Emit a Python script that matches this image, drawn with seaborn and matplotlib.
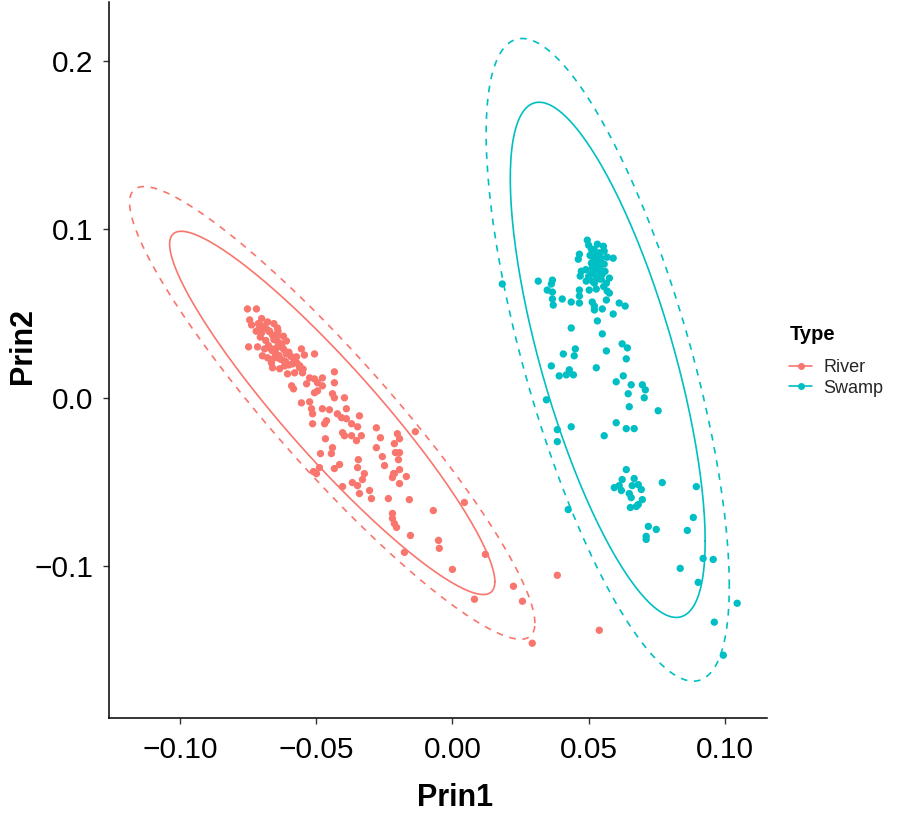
import numpy as np
import pandas as pd
import matplotlib
matplotlib.use("Agg")
import matplotlib.pyplot as plt
import seaborn as sns
from matplotlib.lines import Line2D

# River scores
river_prin1 = [
    -0.0752, -0.0719, -0.0744, -0.0737, -0.0708, -0.0697, -0.0678, -0.0682, -0.0700, -0.0671,
    -0.0642, -0.0642, -0.0609, -0.0627, -0.0748, -0.0715, -0.0689, -0.0697, -0.0664, -0.0645,
    -0.0623, -0.0609, -0.0653, -0.0634, -0.0664, -0.0678, -0.0554, -0.0543, -0.0572, -0.0506,
    -0.0616, -0.0587, -0.0561, -0.0634, -0.0660, -0.0605, -0.0550, -0.0579, -0.0524, -0.0506,
    -0.0477, -0.0495, -0.0535, -0.0477, -0.0433, -0.0433, -0.0590, -0.0583, -0.0506, -0.0495,
    -0.0440, -0.0433, -0.0396, -0.0554, -0.0524, -0.0517, -0.0513, -0.0477, -0.0451, -0.0389,
    -0.0422, -0.0407, -0.0389, -0.0341, -0.0462, -0.0469, -0.0513, -0.0370, -0.0348, -0.0279,
    -0.0403, -0.0396, -0.0370, -0.0352, -0.0334, -0.0466, -0.0264, -0.0202, -0.0194, -0.0136,
    -0.0279, -0.0213, -0.0440, -0.0444, -0.0484, -0.0209, -0.0194, -0.0257, -0.0198, -0.0345,
    -0.0414, -0.0433, -0.0488, -0.0510, -0.0499, -0.0348, -0.0323, -0.0330, -0.0367, -0.0348,
    -0.0403, -0.0249, -0.0216, -0.0194, -0.0169, -0.0220, -0.0194, -0.0304, -0.0297, -0.0341,
    -0.0235, -0.0158, -0.0213, -0.0070, 0.0044, -0.0220, -0.0220, -0.0213, -0.0205, -0.0154,
    -0.0051, -0.0048, -0.0176, 0.0121, 0.0000, 0.0081, 0.0224, 0.0257, 0.0293, 0.0385,
    0.0539,
    # overlapping points in the dense upper-left clump
    -0.0712, -0.0690, -0.0672, -0.0660, -0.0655, -0.0640, -0.0630, -0.0618, -0.0600, -0.0592,
    -0.0580, -0.0570, -0.0560, -0.0548, -0.0705, -0.0685, -0.0675, -0.0662, -0.0648, -0.0636,
    -0.0625, -0.0612, -0.0600, -0.0720, -0.0700, -0.0655, -0.0640, -0.0620,
]
river_prin2 = [
    0.0527, 0.0527, 0.0462, 0.0432, 0.0414, 0.0426, 0.0450, 0.0408, 0.0385, 0.0396,
    0.0414, 0.0367, 0.0337, 0.0320, 0.0302, 0.0302, 0.0290, 0.0249, 0.0290, 0.0296,
    0.0296, 0.0260, 0.0237, 0.0231, 0.0207, 0.0237, 0.0290, 0.0254, 0.0243, 0.0260,
    0.0189, 0.0201, 0.0178, 0.0172, 0.0178, 0.0142, 0.0148, 0.0148, 0.0118, 0.0112,
    0.0118, 0.0089, 0.0083, 0.0071, 0.0154, 0.0089, 0.0071, 0.0053, 0.0030, 0.0041,
    0.0024, 0.0000, 0.0000, -0.0030, -0.0024, -0.0065, -0.0095, -0.0065, -0.0071, -0.0065,
    -0.0095, -0.0118, -0.0124, -0.0107, -0.0136, -0.0154, -0.0154, -0.0154, -0.0172, -0.0178,
    -0.0207, -0.0225, -0.0225, -0.0254, -0.0225, -0.0243, -0.0237, -0.0213, -0.0243, -0.0201,
    -0.0296, -0.0272, -0.0296, -0.0331, -0.0331, -0.0325, -0.0325, -0.0349, -0.0367, -0.0367,
    -0.0396, -0.0420, -0.0414, -0.0438, -0.0450, -0.0414, -0.0450, -0.0485, -0.0503, -0.0521,
    -0.0527, -0.0402, -0.0450, -0.0426, -0.0467, -0.0473, -0.0509, -0.0550, -0.0598, -0.0568,
    -0.0598, -0.0604, -0.0450, -0.0669, -0.0621, -0.0686, -0.0716, -0.0746, -0.0769, -0.0817,
    -0.0846, -0.0893, -0.0917, -0.0929, -0.1018, -0.1195, -0.1118, -0.1207, -0.1456, -0.1053,
    -0.1379,
    0.0440, 0.0418, 0.0392, 0.0372, 0.0345, 0.0330, 0.0310, 0.0285, 0.0270, 0.0245,
    0.0225, 0.0205, 0.0190, 0.0170, 0.0360, 0.0340, 0.0310, 0.0280, 0.0262, 0.0250,
    0.0225, 0.0215, 0.0195, 0.0395, 0.0470, 0.0440, 0.0395, 0.0365,
]

# Swamp scores
swamp_prin1 = [
    0.0495, 0.0532, 0.0554, 0.0510, 0.0557, 0.0466, 0.0462, 0.0510, 0.0532, 0.0546,
    0.0568, 0.0590, 0.0510, 0.0521, 0.0532, 0.0513, 0.0539, 0.0557, 0.0550, 0.0473,
    0.0469, 0.0510, 0.0528, 0.0550, 0.0576, 0.0491, 0.0521, 0.0565, 0.0546, 0.0183,
    0.0315, 0.0367, 0.0363, 0.0348, 0.0367, 0.0466, 0.0502, 0.0528, 0.0568, 0.0576,
    0.0466, 0.0367, 0.0403, 0.0370, 0.0436, 0.0466, 0.0513, 0.0521, 0.0521, 0.0550,
    0.0565, 0.0612, 0.0634, 0.0590, 0.0532, 0.0436, 0.0550, 0.0565, 0.0623, 0.0642,
    0.0638, 0.0451, 0.0407, 0.0447, 0.0363, 0.0429, 0.0392, 0.0418, 0.0444, 0.0528,
    0.0627, 0.0601, 0.0656, 0.0697, 0.0708, 0.0645, 0.0704, 0.0345, 0.0649, 0.0755,
    0.0436, 0.0385, 0.0601, 0.0638, 0.0667, 0.0557, 0.0385, 0.0638, 0.0623, 0.0594,
    0.0612, 0.0620, 0.0667, 0.0660, 0.0649, 0.0682, 0.0693, 0.0656, 0.0697, 0.0682,
    0.0653, 0.0675, 0.0770, 0.0895, 0.0719, 0.0748, 0.0711, 0.0711, 0.0884, 0.0862,
    0.0920, 0.0957, 0.0836, 0.0902, 0.1045, 0.0961, 0.0994, 0.0425,
    # overlapping points in the dense upper clump
    0.0500, 0.0520, 0.0540, 0.0505, 0.0525, 0.0545, 0.0515, 0.0535, 0.0490, 0.0525,
    0.0560, 0.0500, 0.0540, 0.0515, 0.0555,
]
swamp_prin2 = [
    0.0935, 0.0911, 0.0899, 0.0882, 0.0870, 0.0852, 0.0822, 0.0840, 0.0852, 0.0828,
    0.0834, 0.0828, 0.0799, 0.0793, 0.0799, 0.0769, 0.0769, 0.0793, 0.0751, 0.0751,
    0.0722, 0.0734, 0.0722, 0.0734, 0.0710, 0.0692, 0.0680, 0.0680, 0.0704, 0.0675,
    0.0692, 0.0698, 0.0675, 0.0639, 0.0627, 0.0639, 0.0639, 0.0645, 0.0633, 0.0621,
    0.0604, 0.0586, 0.0586, 0.0550, 0.0568, 0.0562, 0.0568, 0.0544, 0.0521, 0.0527,
    0.0580, 0.0562, 0.0544, 0.0497, 0.0456, 0.0414, 0.0379, 0.0278, 0.0320, 0.0296,
    0.0231, 0.0290, 0.0260, 0.0249, 0.0189, 0.0166, 0.0130, 0.0136, 0.0136, 0.0178,
    0.0130, 0.0095, 0.0077, 0.0077, 0.0047, 0.0024, 0.0000, -0.0012, -0.0053, -0.0077,
    -0.0172, -0.0189, -0.0148, -0.0183, -0.0183, -0.0225, -0.0260, -0.0426, -0.0485, -0.0533,
    -0.0521, -0.0550, -0.0479, -0.0521, -0.0568, -0.0515, -0.0544, -0.0592, -0.0604, -0.0633,
    -0.0651, -0.0645, -0.0503, -0.0527, -0.0763, -0.0781, -0.0822, -0.0840, -0.0710, -0.0787,
    -0.0953, -0.0959, -0.1012, -0.1095, -0.1219, -0.1331, -0.1527, -0.0663,
    0.0905, 0.0880, 0.0860, 0.0845, 0.0815, 0.0805, 0.0785, 0.0780, 0.0760, 0.0745,
    0.0750, 0.0720, 0.0705, 0.0690, 0.0660,
]

types = ["River", "Swamp"]
colors = {"River": "#F8766D", "Swamp": "#00BFC4"}

df = pd.concat([
    pd.DataFrame({"Prin1": river_prin1, "Prin2": river_prin2, "Type": "River"}),
    pd.DataFrame({"Prin1": swamp_prin1, "Prin2": swamp_prin2, "Type": "Swamp"}),
], ignore_index=True)


def ellipse_path(x, y, level, n=200):
    # like ggplot2 stat_ellipse(type = "norm")
    pts = np.column_stack([x, y])
    center = pts.mean(axis=0)
    shape = np.cov(pts.T)
    dfd = len(pts) - 1
    fq = (dfd / 2) * ((1 - level) ** (-2 / dfd) - 1)  # F(2, dfd) quantile
    radius = np.sqrt(2 * fq)
    chol = np.linalg.cholesky(shape).T
    t = np.linspace(0, 2 * np.pi, n)
    circle = np.column_stack([np.cos(t), np.sin(t)])
    e = center + radius * (circle @ chol)
    return e[:, 0], e[:, 1]


sns.set_style("white")
plt.rcParams["font.family"] = ["Liberation Sans", "DejaVu Sans"]

fig = plt.figure(figsize=(8.98, 8.16), dpi=100)
ax = fig.add_axes([0.1214, 0.120, 0.7326, 0.878])

sns.scatterplot(data=df, x="Prin1", y="Prin2", hue="Type", palette=colors,
                s=28, edgecolor="none", linewidth=0, legend=False, ax=ax, zorder=3)

for t in types:
    sub = df[df["Type"] == t]
    ex, ey = ellipse_path(sub["Prin1"].values, sub["Prin2"].values, 0.95)
    ax.plot(ex, ey, color=colors[t], lw=1.2, zorder=2)
    ex, ey = ellipse_path(sub["Prin1"].values, sub["Prin2"].values, 0.99)
    ax.plot(ex, ey, color=colors[t], lw=1.2, ls=(0, (4, 4)), zorder=2)

ax.set_xlim(-0.126, 0.1154)
ax.set_ylim(-0.19, 0.235)
ax.set_xticks([-0.10, -0.05, 0.00, 0.05, 0.10])
ax.set_xticklabels(["\u22120.10", "\u22120.05", "0.00", "0.05", "0.10"])
ax.set_yticks([-0.1, 0.0, 0.1, 0.2])
ax.set_yticklabels(["\u22120.1", "0.0", "0.1", "0.2"])
ax.tick_params(axis="both", labelsize=21.5, colors="#333333", labelcolor="black",
               length=4, width=1, direction="out", bottom=True, left=True)
ax.tick_params(axis="x", pad=9)
ax.tick_params(axis="y", pad=7)
for side in ["top", "right"]:
    ax.spines[side].set_visible(False)
for side in ["left", "bottom"]:
    ax.spines[side].set_color("black")
    ax.spines[side].set_linewidth(1.1)

ax.set_xlabel("Prin1", fontsize=22, fontweight="bold", color="black")
ax.set_ylabel("Prin2", fontsize=22, fontweight="bold", color="black")
ax.xaxis.set_label_coords(0.526, -0.091)
ax.yaxis.set_label_coords(-0.108, 0.519)

fig.text(790 / 898, 1 - 334 / 816, "Type", fontsize=14.5, fontweight="bold",
         color="black", ha="left", va="center")
handles = [Line2D([0], [0], color=colors[t], lw=1.2, marker="o", markersize=5,
                  markeredgewidth=0) for t in types]
leg = fig.legend(handles, types, loc="upper left",
                 bbox_to_anchor=(789 / 898, 1 - 359 / 816), frameon=False, fontsize=13,
                 handlelength=1.3, handletextpad=0.6, labelspacing=0.2,
                 borderpad=0, borderaxespad=0)

fig.savefig("out.png", dpi=100)
